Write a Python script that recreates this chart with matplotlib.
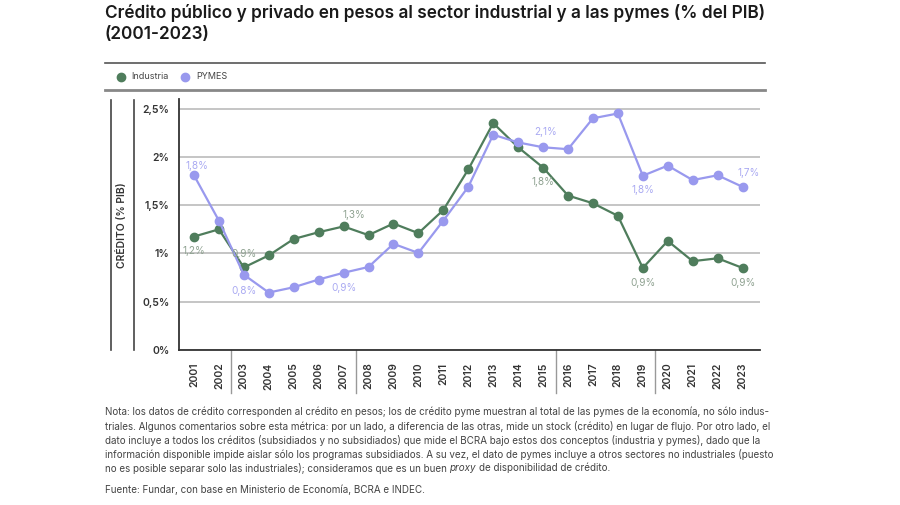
import matplotlib
matplotlib.use("Agg")
import matplotlib.pyplot as plt
from matplotlib.lines import Line2D

plt.rcParams['font.family'] = ['Inter', 'DejaVu Sans']

years = list(range(2001, 2024))
industria = [1.175, 1.25, 0.855, 0.98, 1.15, 1.22, 1.28, 1.19, 1.31, 1.21, 1.45, 1.87,
             2.35, 2.10, 1.89, 1.60, 1.52, 1.39, 0.85, 1.13, 0.92, 0.95, 0.85]
pymes = [1.81, 1.34, 0.78, 0.595, 0.65, 0.73, 0.80, 0.86, 1.10, 1.005, 1.34, 1.69,
         2.23, 2.15, 2.10, 2.08, 2.40, 2.45, 1.805, 1.91, 1.76, 1.81, 1.69]
y_ticks = [0, 0.5, 1, 1.5, 2, 2.5]
y_tick_labels = ['0%', '0,5%', '1%', '1,5%', '2%', '2,5%']
# year boundaries between periods
separators = [2002.5, 2007.5, 2015.5, 2019.5]
# (year, text, dx, dy) labels
ind_labels = [(2001, '1,2%', 0, -14), (2003, '0,9%', 0, 13), (2007, '1,3%', 10, 11),
              (2015, '1,8%', 0, -14), (2019, '0,9%', 0, -15), (2023, '0,9%', 0, -15)]
pym_labels = [(2001, '1,8%', 3, 9), (2003, '0,8%', 0, -16), (2007, '0,9%', 0, -15),
              (2015, '2,1%', 3, 15), (2019, '1,8%', 0, -14), (2023, '1,7%', 6, 14)]

green = '#4f7d5c'
purple = '#9999ee'
green_txt = '#8fa291'
purple_txt = '#aaaaf2'

fig = plt.figure(figsize=(9, 5.05), dpi=100)
ax = fig.add_axes([179 / 900, 1 - 350 / 505, (760 - 179) / 900, 251 / 505])

ax.plot(years, industria, color=green, lw=1.6, marker='o', ms=6, zorder=3)
ax.plot(years, pymes, color=purple, lw=1.6, marker='o', ms=6, zorder=3)

for yr, t, dx, dy in ind_labels:
    ax.annotate(t, (yr, industria[years.index(yr)]), xytext=(dx, dy), textcoords='offset pixels',
                ha='center', va='center', fontsize=7.2, color=green_txt)
for yr, t, dx, dy in pym_labels:
    ax.annotate(t, (yr, pymes[years.index(yr)]), xytext=(dx, dy), textcoords='offset pixels',
                ha='center', va='center', fontsize=7.2, color=purple_txt)

ax.set_xlim(2000.4, 2023.7)
ax.set_ylim(0, 2.6)
ax.set_yticks(y_ticks)
ax.set_yticklabels(y_tick_labels, fontsize=7.5, fontweight='semibold', color='#333333')
ax.set_xticks(years)
ax.set_xticklabels([str(y) for y in years], rotation=90, fontsize=7.5, fontweight='semibold',
                   color='#333333')
ax.tick_params(length=0, pad=7)
ax.tick_params(axis='x', pad=9)
ax.grid(axis='y', color='#b5b5b5', lw=1.1)
ax.set_axisbelow(True)
for s in ['top', 'right']:
    ax.spines[s].set_visible(False)
ax.spines['left'].set_color('#333333')
ax.spines['bottom'].set_color('#333333')
ax.spines['left'].set_linewidth(1.3)
ax.spines['bottom'].set_linewidth(1.3)

for sx in separators:
    ax.plot([sx, sx], [0, -0.45], color='#999999', lw=1, clip_on=False)

# left decorative lines and y label
fig.add_artist(Line2D([111 / 900, 111 / 900], [1 - 100 / 505, 1 - 350 / 505], color='#444444', lw=1.2))
fig.add_artist(Line2D([134 / 900, 134 / 900], [1 - 100 / 505, 1 - 350 / 505], color='#444444', lw=1.2))
fig.text(122 / 900, 1 - 225 / 505, 'CRÉDITO (% PIB)', rotation=90, ha='center', va='center',
         fontsize=7.5, fontweight='semibold', color='#333333')

# title
fig.text(105 / 900, 1 - 13 / 505, 'Crédito público y privado en pesos al sector industrial y a las pymes (% del PIB)',
         fontsize=12.4, fontweight='semibold', color='#1a1a1a', va='center')
fig.text(105 / 900, 1 - 34 / 505, '(2001-2023)', fontsize=12.4, fontweight='semibold',
         color='#1a1a1a', va='center')

# legend band
fig.add_artist(Line2D([105 / 900, 765 / 900], [1 - 62.5 / 505] * 2, color='#555555', lw=1.2))
fig.add_artist(Line2D([105 / 900, 765 / 900], [1 - 90 / 505] * 2, color='#888888', lw=2))
fig.add_artist(Line2D([121 / 900], [1 - 76.5 / 505], marker='o', ms=6, color=green, lw=0))
fig.text(131 / 900, 1 - 76.5 / 505, 'Industria', fontsize=6.5, color='#444444', va='center')
fig.add_artist(Line2D([185 / 900], [1 - 76.5 / 505], marker='o', ms=6, color=purple, lw=0))
fig.text(196 / 900, 1 - 76.5 / 505, 'PYMES', fontsize=6.5, color='#444444', va='center')

# notes
note_lines = [
    'Nota: los datos de crédito corresponden al crédito en pesos; los de crédito pyme muestran al total de las pymes de la economía, no sólo indus-',
    'triales. Algunos comentarios sobre esta métrica: por un lado, a diferencia de las otras, mide un stock (crédito) en lugar de flujo. Por otro lado, el',
    'dato incluye a todos los créditos (subsidiados y no subsidiados) que mide el BCRA bajo estos dos conceptos (industria y pymes), dado que la',
    'información disponible impide aislar sólo los programas subsidiados. A su vez, el dato de pymes incluye a otros sectores no industriales (puesto',
]
note_color = '#444444'
note_fs = 7.1
for i, line in enumerate(note_lines):
    fig.text(105 / 900, 1 - (412 + i * 14) / 505, line, fontsize=note_fs, color=note_color, va='center')

# last line with italic "proxy"
renderer = fig.canvas.get_renderer()
x0 = 105 / 900
yl = 1 - (412 + 4 * 14) / 505
gap = 2.6 / 900
parts = [('no es posible separar solo las industriales); consideramos que es un buen', 'normal'),
         ('proxy', 'italic'),
         ('de disponibilidad de crédito.', 'normal')]
for txt, style in parts:
    t = fig.text(x0, yl, txt, fontsize=note_fs, color=note_color, va='center', style=style)
    bb = t.get_window_extent(renderer=renderer)
    x0 += bb.width / fig.bbox.width + gap

fig.text(105 / 900, 1 - 490 / 505, 'Fuente: Fundar, con base en Ministerio de Economía, BCRA e INDEC.',
         fontsize=note_fs, color=note_color, va='center')

fig.savefig('out.png', dpi=100)
